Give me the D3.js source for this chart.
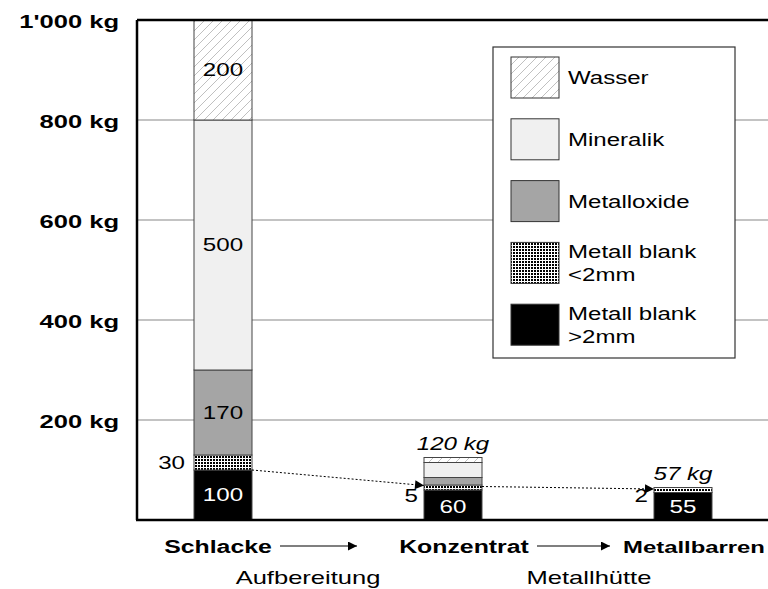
<!DOCTYPE html>
<html><head><meta charset="utf-8">
<script src="https://cdn.jsdelivr.net/npm/d3@7"></script>
<style>body{margin:0;background:#fff}text{font-family:"Liberation Sans",Arial,sans-serif}</style>
</head><body><svg id="c" width="768" height="589"></svg>
<script>
const categories = ["Schlacke", "Konzentrat", "Metallbarren"];
const components = ["Metall blank >2mm", "Metall blank <2mm", "Metalloxide", "Mineralik", "Wasser"];
const blankGross = [100, 60, 55];
const blankFine = [30, 5, 2];
const oxide = [170, 15, 0];
const mineral = [500, 30, 0];
const water = [200, 10, 0];
const totalLabels = [null, "120 kg", "57 kg"];
const yTicks = [200, 400, 600, 800, 1000];
const yTickLabels = ["200 kg", "400 kg", "600 kg", "800 kg", "1'000 kg"];
const steps = ["Aufbereitung", "Metallhütte"];

(function(){
const svg = d3.select("#c");
const defs = svg.append("defs");
const SX = 1.38;
function txt(parent, x, y, str, o) {
  o = o || {};
  const t = parent.append("text")
    .attr("transform", `translate(${x},${y}) scale(${o.sx || SX},1)`)
    .attr("text-anchor", o.anchor || "middle")
    .attr("font-size", o.size || 17.5)
    .attr("fill", o.fill || "#000");
  if (o.dy) t.attr("dy", o.dy);
  if (o.bold) t.attr("font-weight", "bold");
  if (o.italic) t.attr("font-style", "italic");
  t.text(str);
  return t;
}

const hatch = defs.append("pattern").attr("id","hatch").attr("patternUnits","userSpaceOnUse").attr("width",9).attr("height",9);
hatch.append("rect").attr("width",9).attr("height",9).attr("fill","#fff");
hatch.append("path").attr("d","M-2,2 L2,-2 M0,9 L9,0 M7,11 L11,7").attr("stroke","#b0b0b0").attr("stroke-width",0.8);
const dots = defs.append("pattern").attr("id","dots").attr("patternUnits","userSpaceOnUse").attr("width",3).attr("height",3);
dots.append("rect").attr("width",3).attr("height",3).attr("fill","#fff");
dots.append("rect").attr("width",2).attr("height",2).attr("fill","#000");

const fills = ["#000", "url(#dots)", "#a5a5a5", "#f0f0f0", "url(#hatch)"];
const series = [blankGross, blankFine, oxide, mineral, water];

const pLeft = 137, pRight = 768, pTop = 20, pBottom = 520;
const y = d3.scaleLinear().domain([0, 1000]).range([pBottom, pTop]);
const x = d3.scalePoint().domain(categories).range([223, 683]);
const barW = 58;
const minH = 5;

svg.append("g").selectAll("line").data(yTicks.slice(0,4)).join("line")
  .attr("x1", pLeft).attr("x2", pRight).attr("y1", d=>y(d)).attr("y2", d=>y(d))
  .attr("stroke","#888").attr("stroke-width",1.2);

const yl = svg.append("g");
yTicks.forEach((d,i) => txt(yl, 119, y(d) + 1, yTickLabels[i], {anchor:"end", bold:true, size:18.5, dy:"0.36em"}));

const segY = series.map(() => []);
const barTops = [];
categories.forEach((c, ci) => {
  let cur = pBottom;
  const g = svg.append("g");
  series.forEach((s, si) => {
    const v = s[ci];
    if (!v) return;
    let h = y(0) - y(v);
    if (h < minH) h = minH;
    g.append("rect").attr("x", x(c) - barW/2).attr("y", cur - h).attr("width", barW).attr("height", h)
      .attr("fill", fills[si]).attr("stroke", "#444").attr("stroke-width", 1);
    segY[si][ci] = [cur - h, cur];
    cur -= h;
  });
  barTops[ci] = cur;
});

svg.append("line").attr("x1", pLeft).attr("x2", pRight).attr("y1", pTop).attr("y2", pTop).attr("stroke","#000").attr("stroke-width",2.5);
svg.append("line").attr("x1", pLeft).attr("x2", pLeft).attr("y1", pTop).attr("y2", pBottom).attr("stroke","#000").attr("stroke-width",2.5);
svg.append("line").attr("x1", pLeft-1).attr("x2", pRight).attr("y1", pBottom).attr("y2", pBottom).attr("stroke","#000").attr("stroke-width",2.5);

const lab = svg.append("g");
const sx = x(categories[0]);
const mid = (si, ci) => (segY[si][ci][0] + segY[si][ci][1]) / 2;
[[4,"#000"],[3,"#000"],[2,"#000"],[0,"#fff"]].forEach(([si,col]) => {
  txt(lab, sx, mid(si,0), series[si][0], {fill:col, dy:"0.36em"});
});
txt(lab, sx - barW/2 - 9, mid(1,0), blankFine[0], {anchor:"end", dy:"0.36em"});

[1,2].forEach(ci => {
  const cx = x(categories[ci]);
  txt(lab, cx, pBottom - 7, blankGross[ci], {fill:"#fff"});
  txt(lab, cx - barW/2 - 6, pBottom - 18, blankFine[ci], {anchor:"end"});
  txt(lab, cx, barTops[ci] - 8, totalLabels[ci], {italic:true});
});

defs.append("marker").attr("id","ah").attr("viewBox","0 0 10 10").attr("refX",10).attr("refY",5)
  .attr("markerWidth",13).attr("markerHeight",9).attr("markerUnits","userSpaceOnUse").attr("orient","auto")
  .append("path").attr("d","M0,0 L10,5 L0,10 Z").attr("fill","#000");
svg.append("line").attr("x1", x(categories[0]) + barW/2).attr("y1", segY[1][0][1])
  .attr("x2", x(categories[1]) - barW/2).attr("y2", mid(1,1) - 2)
  .attr("stroke","#000").attr("stroke-width",1).attr("stroke-dasharray","2,2").attr("marker-end","url(#ah)");
svg.append("line").attr("x1", x(categories[1]) + barW/2).attr("y1", mid(1,1) - 1)
  .attr("x2", x(categories[2]) - barW/2).attr("y2", mid(1,2) - 1)
  .attr("stroke","#000").attr("stroke-width",1).attr("stroke-dasharray","2,2").attr("marker-end","url(#ah)");

const lg = svg.append("g");
lg.append("rect").attr("x",493).attr("y",47).attr("width",242).attr("height",311).attr("fill","#fff").attr("stroke","#333").attr("stroke-width",1.2);
const legOrder = [4,3,2,1,0];
const legLabels = [["Metall blank", ">2mm"], ["Metall blank", "<2mm"], ["Metalloxide"], ["Mineralik"], ["Wasser"]];
legOrder.forEach((si, i) => {
  const yy = 57 + i * 61.8;
  lg.append("rect").attr("x",511).attr("y",yy).attr("width",48).attr("height",41).attr("fill",fills[si]).attr("stroke","#333").attr("stroke-width",1);
  const lines = legLabels[si];
  const o = {anchor:"start", size:18.5, dy:"0.36em", sx:1.3};
  if (lines.length === 1) {
    txt(lg, 568, yy + 20.5, lines[0], o);
  } else {
    txt(lg, 568, yy + 9, lines[0], o);
    txt(lg, 568, yy + 32, lines[1], o);
  }
});

const bt = svg.append("g");
const catX = [218, 464, 694];
categories.forEach((c,i) => txt(bt, catX[i], 553, c, {bold:true, size:i === 2 ? 17.3 : 18}));
const arrows = [[280, 357], [537, 610]];
arrows.forEach(([a,b]) => {
  bt.append("line").attr("x1",a).attr("x2",b).attr("y1",546).attr("y2",546).attr("stroke","#000").attr("stroke-width",1.2).attr("marker-end","url(#ah)");
});
const stepX = [308, 589];
steps.forEach((s,i) => txt(bt, stepX[i], 584, s, {size:18.5}));
})();
</script></body></html>
